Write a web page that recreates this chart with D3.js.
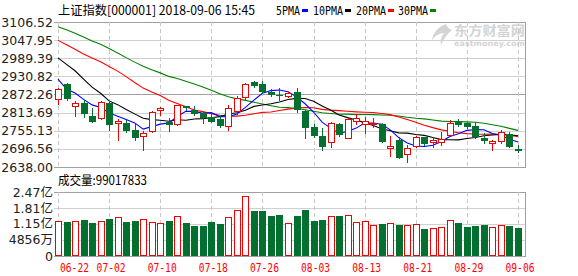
<!DOCTYPE html>
<html>
<head>
<meta charset="utf-8">
<script src="https://cdn.jsdelivr.net/npm/d3@7"></script>
<style>
body { margin: 0; background: #fff; }
svg { display: block; }
</style>
</head>
<body>
<div id="chart"></div>
<script>
// daily bars, 2018-06-22 .. 2018-09-06
var dates = ['06-22','06-25','06-26','06-27','06-28','06-29','07-02','07-03','07-04','07-05',
    '07-06','07-09','07-10','07-11','07-12','07-13','07-16','07-17','07-18','07-19',
    '07-20','07-23','07-24','07-25','07-26','07-27','07-30','07-31','08-01','08-02',
    '08-03','08-06','08-07','08-08','08-09','08-10','08-13','08-14','08-15','08-16',
    '08-17','08-20','08-21','08-22','08-23','08-24','08-27','08-28','08-29','08-30',
    '08-31','09-03','09-04','09-05','09-06'];

var opens = [2857,2905,2835,2844,2803,2796,2845,2779,2780,2757,
    2737,2755,2822,2783,2778,2835,2822,2812,2800,2793,
    2772,2818,2864,2913,2906,2881,2872,2866,2880,2820,
    2766,2738,2718,2776,2733,2788,2778,2779,2778,2698,
    2725,2681,2706,2734,2719,2718,2740,2782,2779,2771,
    2732,2717,2723,2745,2697];
var highs = [2893,2909,2851,2855,2829,2850,2847,2792,2790,2777,
    2753,2818,2832,2797,2839,2836,2836,2817,2812,2805,
    2838,2866,2909,2917,2916,2890,2893,2881,2894,2823,
    2778,2764,2784,2781,2797,2808,2800,2795,2780,2737,
    2735,2708,2737,2736,2734,2750,2789,2792,2784,2782,
    2747,2726,2757,2751,2709];
var lows = [2843,2856,2803,2800,2784,2793,2757,2726,2752,2726,
    2694,2752,2806,2755,2775,2823,2805,2779,2784,2767,
    2758,2810,2858,2895,2876,2866,2853,2864,2817,2731,
    2734,2692,2702,2738,2731,2778,2747,2768,2720,2675,
    2666,2654,2703,2709,2704,2709,2740,2772,2765,2733,
    2714,2693,2715,2702,2687];
var closes = [2889.76,2859.34,2844.51,2813.18,2786.90,2847.42,2775.56,2786.89,2759.13,2733.88,
    2747.23,2815.11,2827.63,2777.77,2837.66,2831.18,2814.04,2798.13,2787.26,2772.55,
    2829.27,2859.54,2905.56,2903.65,2882.23,2873.59,2869.05,2876.40,2824.53,2768.02,
    2740.44,2705.16,2779.37,2744.07,2794.38,2795.31,2785.87,2780.96,2723.26,2705.19,
    2668.97,2698.47,2733.55,2714.61,2724.62,2729.43,2780.90,2777.98,2769.30,2737.74,
    2725.25,2720.73,2750.58,2704.34,2691.59];

var volumes = [127000000,123000000,127000000,131000000,120000000,127000000,135000000,142000000,124000000,127000000,
    134000000,123000000,119000000,127000000,146000000,120000000,108000000,108000000,124000000,116000000,
    142000000,171000000,230000000,168000000,168000000,149000000,153000000,118000000,149000000,173000000,
    127000000,131000000,146000000,148000000,152000000,122000000,126000000,109000000,115000000,118000000,
    111000000,109000000,113000000,94000000,97000000,101000000,130000000,119000000,102000000,106000000,
    111000000,101000000,109000000,106000000,99017833];

var ma5 = [2922.20,2889.69,2877.03,2856.52,2838.74,2830.27,2813.51,2801.99,2791.18,2780.58,
    2760.54,2768.45,2776.60,2780.32,2801.08,2817.87,2817.66,2811.76,2813.65,2800.63,
    2800.25,2809.35,2830.84,2854.11,2876.05,2884.91,2886.82,2880.98,2865.16,2842.32,
    2815.69,2782.91,2763.50,2747.41,2752.68,2763.66,2779.80,2780.12,2775.96,2758.12,
    2732.85,2715.37,2705.89,2704.16,2708.04,2720.14,2736.62,2745.51,2756.45,2759.07,
    2758.23,2746.20,2740.72,2727.73,2718.50];
var ma10 = [2990.47,2969.69,2948.86,2922.20,2895.91,2876.24,2851.60,2839.51,2823.85,2809.66,
    2795.40,2790.98,2789.29,2785.75,2790.83,2789.20,2793.05,2794.18,2796.99,2800.86,
    2809.06,2813.50,2821.30,2833.88,2838.34,2842.58,2848.08,2855.91,2859.64,2859.18,
    2850.30,2834.86,2822.24,2806.29,2797.50,2789.67,2781.36,2771.81,2761.68,2755.40,
    2748.25,2747.59,2743.00,2740.06,2733.08,2726.49,2726.00,2725.70,2730.30,2733.56,
    2739.19,2741.41,2743.11,2742.09,2738.78];
var ma20 = [3047.18,3033.08,3018.55,3003.19,2990.46,2978.06,2963.08,2947.86,2930.11,2911.04,
    2892.94,2880.34,2869.08,2853.98,2843.37,2832.72,2822.33,2816.85,2810.42,2805.26,
    2802.23,2802.24,2805.30,2809.82,2814.59,2815.89,2820.57,2825.05,2828.32,2830.02,
    2829.68,2824.18,2821.77,2820.09,2817.92,2816.13,2814.72,2813.86,2810.66,2807.29,
    2799.28,2791.23,2782.62,2773.18,2765.29,2758.08,2753.68,2748.76,2745.99,2744.48,
    2743.72,2744.50,2743.06,2741.08,2735.93];
var ma30 = [3091.40,3081.27,3070.29,3057.66,3044.90,3034.67,3020.75,3006.52,2991.35,2976.85,
    2963.27,2952.40,2942.15,2930.73,2923.94,2915.13,2906.43,2896.66,2885.76,2874.34,
    2864.98,2858.06,2853.15,2847.28,2841.69,2836.01,2830.91,2829.87,2826.83,2823.23,
    2818.25,2813.11,2810.94,2808.64,2808.89,2807.15,2807.50,2807.30,2806.10,2805.15,
    2802.54,2798.65,2795.51,2793.41,2789.64,2786.25,2785.15,2784.47,2783.87,2782.71,
    2779.25,2774.62,2769.45,2762.81,2756.45];

var priceTicks = [3106.52, 3047.95, 2989.39, 2930.82, 2872.26, 2813.69, 2755.13, 2696.56, 2638.00];
var volTicks = [-17587000, 48560000, 114707000, 180853000, 247000000];
var volTickLabels = ['0', '4856万', '1.15亿', '1.81亿', '2.47亿'];
var dateTicks = ['06-22','07-02','07-10','07-18','07-26','08-03','08-13','08-21','08-29','09-06'];
var maNames = ['5PMA', '10PMA', '20PMA', '30PMA'];

var RED = '#f00000', GREEN = '#03702f';
var maColors = ['#0000ff', '#000000', '#ff0000', '#008000'];
var cjk = '"Noto Sans CJK SC", sans-serif';
var mono = '"DejaVu Sans Mono", monospace';

var svg = d3.select('#chart').append('svg')
    .attr('width', 578)
    .attr('height', 276);

var plotLeft = 54, plotRight = 525;
var x = d3.scalePoint().domain(dates).range([58, 518]);
var y = d3.scaleLinear().domain([2638, 3106.52]).range([167, 22]);
var yVol = d3.scaleLinear().domain([volTicks[0], volTicks[4]]).range([256, 192]);

function px(v) { return Math.round(v) + 0.5; }

// watermark
var wm = svg.append('g').attr('fill', '#d4d4d4');
wm.append('path')
    .attr('d', 'M446,24 C438,27 433,33 432,40 C436,35 440,33 444,33 C441,37 440,41 441,45 C444,38 448,33 452,30 C449,29 447,27 446,24 Z');
wm.append('text')
    .attr('x', 454).attr('y', 35)
    .attr('textLength', 71).attr('lengthAdjust', 'spacingAndGlyphs')
    .style('font-family', cjk).style('font-size', '13px').style('font-weight', 'bold')
    .text('东方财富网');
wm.append('text')
    .attr('x', 454).attr('y', 46)
    .attr('textLength', 71).attr('lengthAdjust', 'spacingAndGlyphs')
    .style('font-family', '"DejaVu Sans", sans-serif').style('font-size', '7.5px').style('font-weight', 'bold')
    .text('eastmoney.com');

// grids
var grid = svg.append('g');
priceTicks.forEach(function(t, i) {
    var dark = (i === 0 || i === 4 || i === priceTicks.length - 1);
    grid.append('line')
        .attr('x1', plotLeft).attr('x2', plotRight)
        .attr('y1', px(y(t))).attr('y2', px(y(t)))
        .attr('stroke', dark ? '#a0a0a0' : '#d0d0d0');
});
volTicks.forEach(function(t, i) {
    var dark = (i === 0 || i === volTicks.length - 1);
    grid.append('line')
        .attr('x1', plotLeft).attr('x2', plotRight)
        .attr('y1', px(yVol(t))).attr('y2', px(yVol(t)))
        .attr('stroke', dark ? '#a0a0a0' : '#d0d0d0');
});
dateTicks.forEach(function(d) {
    [[22, 167], [192, 256]].forEach(function(r) {
        grid.append('line')
            .attr('x1', px(x(d))).attr('x2', px(x(d)))
            .attr('y1', r[0]).attr('y2', r[1])
            .attr('stroke', '#c8c8c8')
            .attr('stroke-dasharray', '4,3');
    });
});
[[22, 167], [192, 256]].forEach(function(r) {
    grid.append('line')
        .attr('x1', plotRight + 0.5).attr('x2', plotRight + 0.5)
        .attr('y1', Math.round(r[0])).attr('y2', Math.round(r[1]) + 1)
        .attr('stroke', '#a0a0a0');
});

// axes labels
var yAxis = d3.axisLeft(y).tickValues(priceTicks).tickFormat(d3.format('.2f')).tickSize(0).tickPadding(1);
var yAxisG = svg.append('g').attr('transform', 'translate(54,0)').call(yAxis);
yAxisG.select('.domain').remove();
yAxisG.selectAll('text')
    .style('font-family', '"DejaVu Sans", sans-serif')
    .style('font-size', '12.5px')
    .attr('fill', '#222');

var vAxis = d3.axisLeft(yVol).tickValues(volTicks)
    .tickFormat(function(d, i) { return volTickLabels[i]; })
    .tickSize(0).tickPadding(1);
var vAxisG = svg.append('g').attr('transform', 'translate(54,0)').call(vAxis);
vAxisG.select('.domain').remove();
vAxisG.selectAll('text')
    .style('font-family', '"DejaVu Sans", "Noto Sans CJK SC", sans-serif')
    .style('font-size', '12.5px')
    .attr('fill', '#222');

svg.append('g').selectAll('text')
    .data(dateTicks)
    .enter()
    .append('text')
    .attr('x', function(d, i) { return i === 0 ? 60 : x(d) + 2 - 14.5; })
    .attr('y', 272)
    .attr('textLength', 29)
    .attr('lengthAdjust', 'spacingAndGlyphs')
    .attr('fill', '#ff0000')
    .style('font-family', mono)
    .style('font-size', '12px')
    .text(function(d) { return d; });

// header + legend
svg.append('text')
    .attr('x', 58).attr('y', 15)
    .attr('textLength', 197).attr('lengthAdjust', 'spacingAndGlyphs')
    .style('font-family', cjk).style('font-size', '12.5px')
    .text('上证指数[000001] 2018-09-06 15:45');

var legendX = [276, 313, 356, 398];
var legendW = [24, 30, 30, 30];
maNames.forEach(function(n, i) {
    svg.append('text')
        .attr('x', legendX[i]).attr('y', 15)
        .attr('textLength', legendW[i]).attr('lengthAdjust', 'spacingAndGlyphs')
        .style('font-family', mono).style('font-size', '12px')
        .text(n);
    svg.append('rect')
        .attr('x', legendX[i] + legendW[i] + 2).attr('y', 9)
        .attr('width', 6).attr('height', 3)
        .attr('fill', maColors[i]);
});

svg.append('text')
    .attr('x', 58).attr('y', 185)
    .attr('textLength', 89).attr('lengthAdjust', 'spacingAndGlyphs')
    .style('font-family', cjk).style('font-size', '12.5px')
    .text('成交量:' + volumes[volumes.length - 1]);

// moving averages
var maLine = d3.line()
    .x(function(d, i) { return x(dates[i]); })
    .y(function(d) { return y(d); });
[ma30, ma20, ma10, ma5].forEach(function(s, k) {
    svg.append('path')
        .attr('d', maLine(s))
        .attr('fill', 'none')
        .attr('stroke', maColors[3 - k])
        .attr('stroke-width', 1.1);
});

// candles
var candles = svg.append('g').attr('shape-rendering', 'crispEdges');
dates.forEach(function(d, i) {
    var cx = Math.round(x(d));
    var up = closes[i] > opens[i];
    var col = up ? RED : GREEN;
    candles.append('line')
        .attr('x1', cx + 0.5).attr('x2', cx + 0.5)
        .attr('y1', Math.round(y(highs[i]))).attr('y2', Math.round(y(lows[i])) + 1)
        .attr('stroke', col);
    var top = Math.round(y(Math.max(opens[i], closes[i])));
    var bot = Math.round(y(Math.min(opens[i], closes[i])));
    if (up) {
        candles.append('rect')
            .attr('x', cx - 2.5).attr('y', top + 0.5)
            .attr('width', 6).attr('height', Math.max(1, bot - top))
            .attr('fill', '#fff').attr('stroke', col);
    } else {
        candles.append('rect')
            .attr('x', cx - 3).attr('y', top)
            .attr('width', 7).attr('height', Math.max(1, bot - top + 1))
            .attr('fill', col);
    }
});

// volume bars
var vols = svg.append('g').attr('shape-rendering', 'crispEdges');
dates.forEach(function(d, i) {
    var cx = Math.round(x(d));
    var up = closes[i] > opens[i];
    var top = Math.round(yVol(volumes[i]));
    if (up) {
        vols.append('rect')
            .attr('x', cx - 2.5).attr('y', top + 0.5)
            .attr('width', 6).attr('height', 256 - top - 1)
            .attr('fill', '#fff').attr('stroke', RED);
    } else {
        vols.append('rect')
            .attr('x', cx - 3).attr('y', top)
            .attr('width', 7).attr('height', 256 - top)
            .attr('fill', GREEN);
    }
});
</script>
</body>
</html>
